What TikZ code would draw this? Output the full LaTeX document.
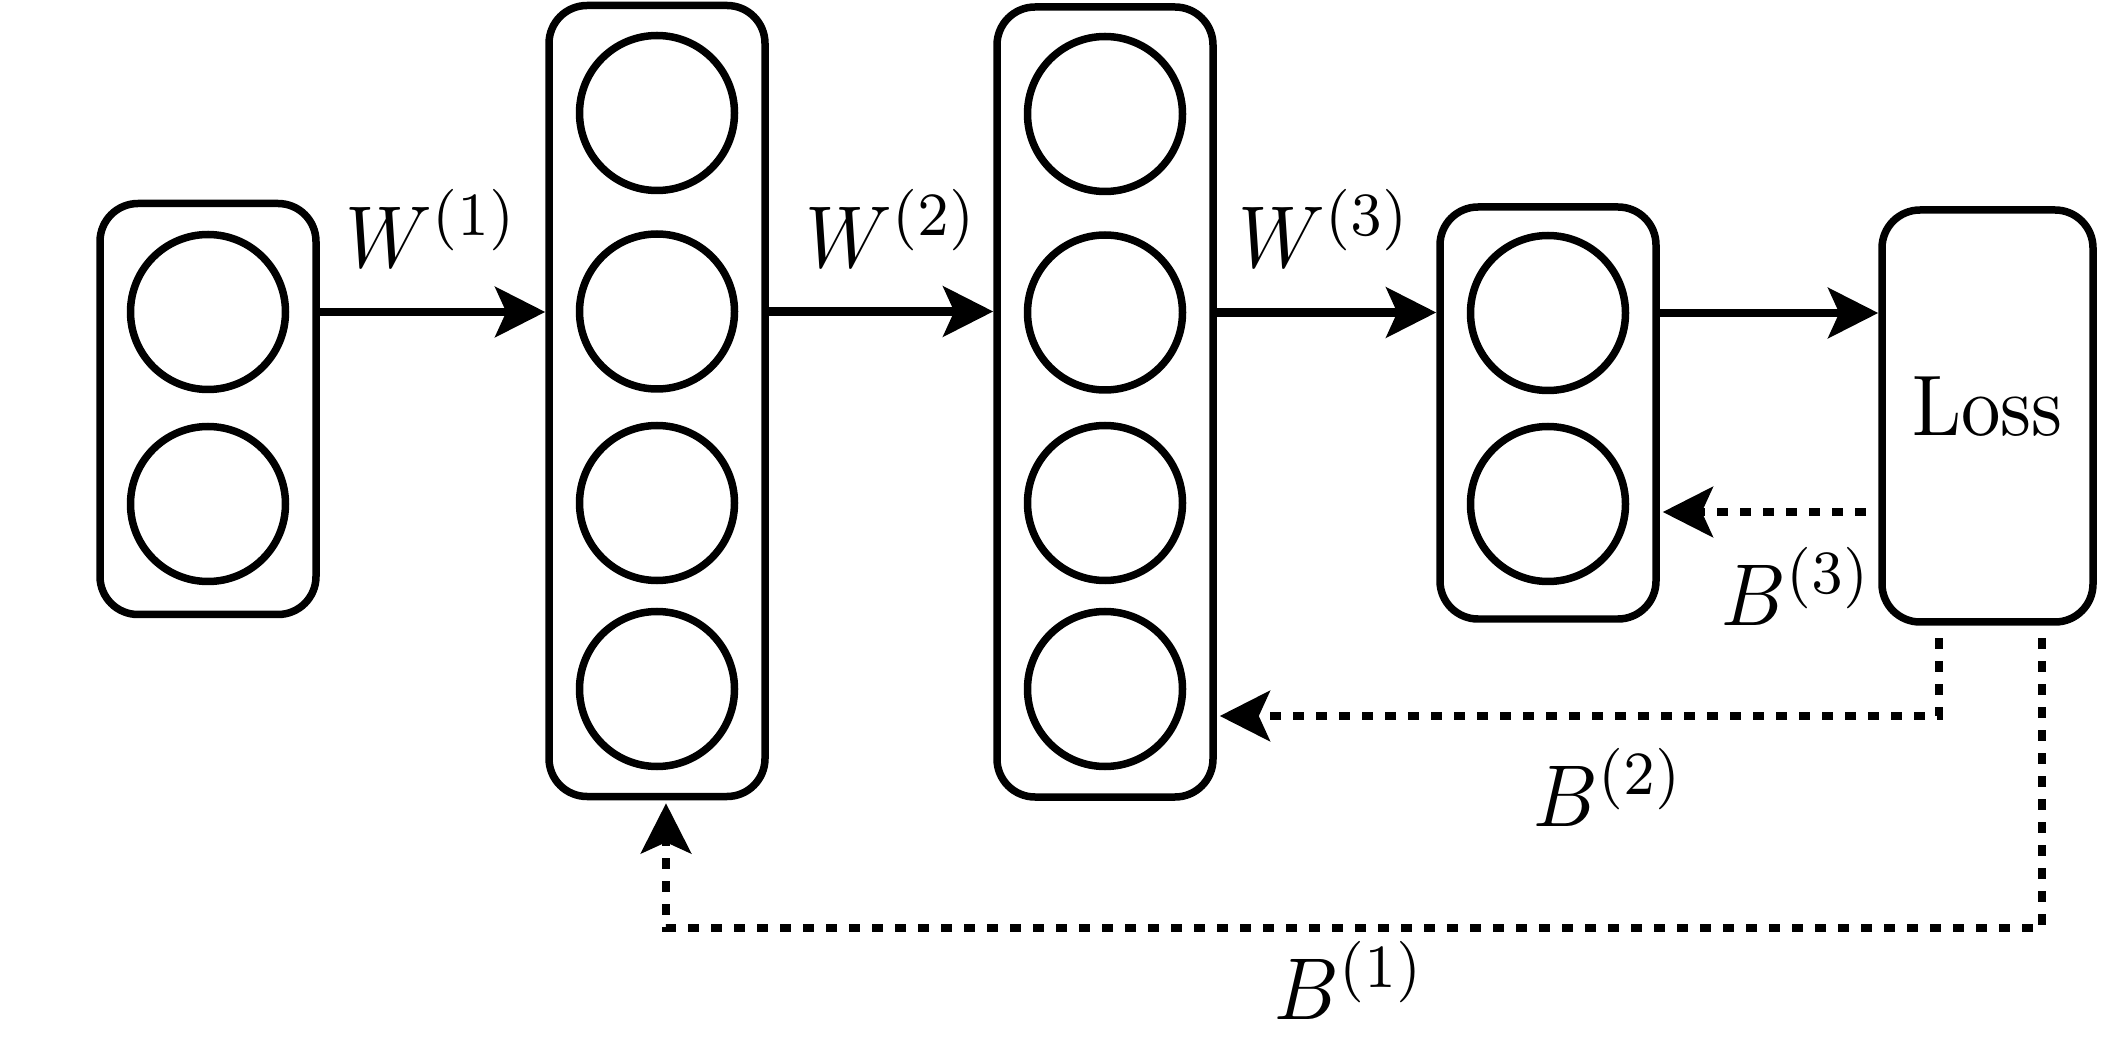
\documentclass[tikz,border=0pt]{standalone}
\usepackage{graphicx}
\usetikzlibrary{arrows.meta}
\newcommand{\bigtxt}[1]{\scalebox{2.28}[2.5]{#1}}
\begin{document}
\begin{tikzpicture}[
  layer/.style={draw, line width=0.075cm, rounded corners=0.38cm, minimum width=2.16cm, inner sep=0pt},
  neuron/.style={draw, circle, line width=0.075cm, minimum size=1.55cm, inner sep=0pt},
  lbl/.style={inner sep=0pt},
  fwd/.style={line width=0.085cm, -{Stealth[length=0.5cm,width=0.5cm,inset=0.11cm]}},
  back/.style={line width=0.085cm, dash pattern=on 0.105cm off 0.125cm, dash phase=0.105cm,
    -{Stealth[length=0.5cm,width=0.5cm,inset=0.11cm]}, shorten >=0.03cm}
]
\useasboundingbox (0,0) rectangle (21.01,-10.37);

% layers
\node[layer, minimum height=4.11cm] (box1) at (2.08,-4.09) {};
\node[layer, minimum height=7.91cm] (box2) at (6.57,-4.01) {};
\node[layer, minimum height=7.90cm] (box3) at (11.05,-4.02) {};
\node[layer, minimum height=4.12cm] (box4) at (15.48,-4.13) {};
\node[layer, minimum height=4.12cm, minimum width=2.11cm, text depth=0.2cm] (loss) at (19.875,-4.16) {\scalebox{2.24}[2.45]{Loss}};

% neurons
\node[neuron] (n11) at (2.08,-3.12) {};
\node[neuron] (n12) at (2.08,-5.04) {};
\node[neuron] (n21) at (6.57,-1.13) {};
\node[neuron] (n22) at (6.57,-3.115) {};
\node[neuron] (n23) at (6.57,-5.03) {};
\node[neuron] (n24) at (6.57,-6.89) {};
\node[neuron] (n31) at (11.05,-1.14) {};
\node[neuron] (n32) at (11.05,-3.125) {};
\node[neuron] (n33) at (11.05,-5.03) {};
\node[neuron] (n34) at (11.05,-6.89) {};
\node[neuron] (n41) at (15.48,-3.13) {};
\node[neuron] (n42) at (15.48,-5.04) {};

% forward arrows
\draw[fwd] (box1.east |- n11) -- (box2.west |- n11);
\draw[fwd] (box2.east |- n22) -- (box3.west |- n22);
\draw[fwd] (box3.east |- n32) -- (box4.west |- n32);
\draw[fwd] (box4.east |- n41) -- (loss.west |- n41);

% labels
\node[lbl] (w1) at (4.32,-2.28) {\bigtxt{$W^{(1)}$}};
\node[lbl] (w2) at (8.92,-2.28) {\bigtxt{$W^{(2)}$}};
\node[lbl] (w3) at (13.25,-2.28) {\bigtxt{$W^{(3)}$}};

% feedback
\coordinate (c3) at (18.80,-5.12);
\coordinate (c2) at (19.39,-7.16);
\coordinate (c1) at (20.42,-9.28);
\coordinate (c1b) at (6.66,-9.28);
\draw[back] (loss.west |- c3) -- (box4.east |- c3);
\draw[back] (loss.south -| c2) -- (c2) -- (box3.east |- c2);
\draw[back] (loss.south -| c1) -- (c1) -- (c1b) -- (box2.south -| c1b);

\node[lbl] (b3) at (17.97,-5.865) {\bigtxt{$B^{(3)}$}};
\node[lbl] (b2) at (16.09,-7.87) {\bigtxt{$B^{(2)}$}};
\node[lbl] (b1) at (13.50,-9.80) {\bigtxt{$B^{(1)}$}};
\end{tikzpicture}
\end{document}
